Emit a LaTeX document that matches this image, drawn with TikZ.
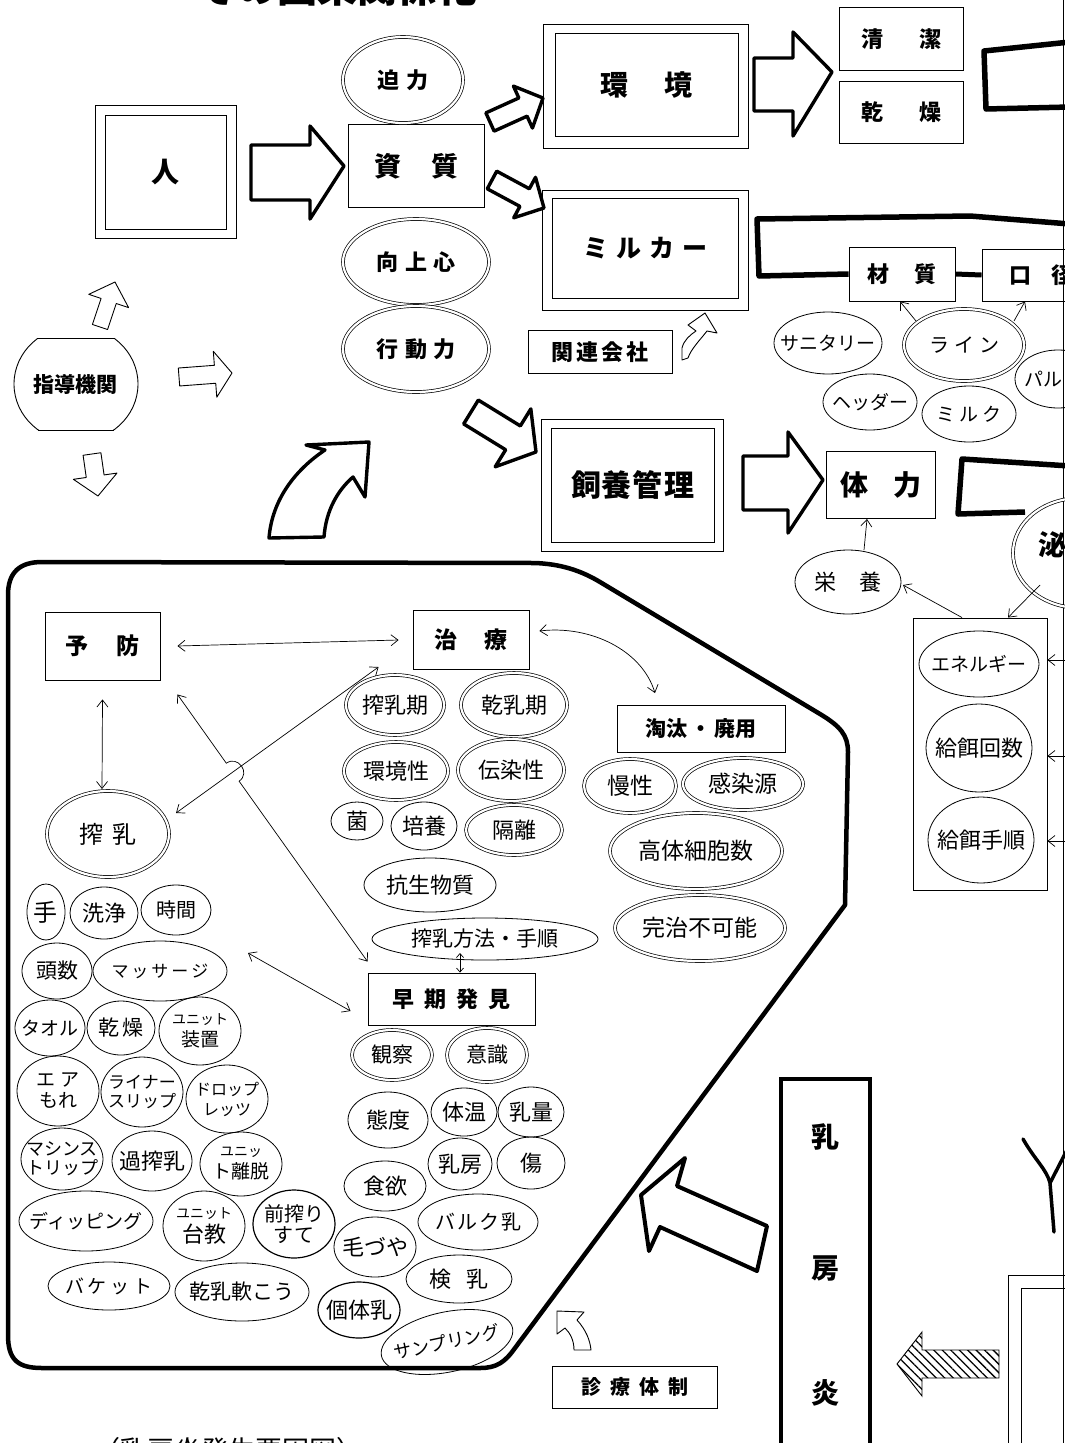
\documentclass[tikz,border=0pt]{standalone}
\usepackage{fontspec}
\newfontfamily\jp{Noto Sans CJK JP}
\usetikzlibrary{arrows.meta,patterns.meta}
\newcommand\hs[1]{\hspace{#1pt}}
\newcommand\fs[1]{\fontsize{#1}{#1}\selectfont}
% ellipse: [style]{name}{x}{y}{rx}{ry}{font style}{text}
\newcommand\EL[8][]{%
  \draw[ell,#1] (#3,#4) ellipse [x radius=#5, y radius=#6];
  \node[lbl,#7] (#2) at (#3,#4) {#8};}
% outline arrow: [style]{x1}{y1}{x2}{y2}{body half}{head half}{head length}
\newcommand\fatarrow[8][]{%
  \pgfmathsetmacro\faA{atan2(-(#5)+(#3),(#4)-(#2))}%
  \pgfmathsetmacro\faL{veclen((#4)-(#2),(#5)-(#3))}%
  \pgfmathsetmacro\faB{\faL-(#8)}%
  \draw[#1,shift={(#2,#3)},rotate=\faA] (0,#6) -- (\faB,#6) -- (\faB,#7) -- (\faL,0) -- (\faB,-#7) -- (\faB,-#6) -- (0,-#6) -- cycle;}
\begin{document}
\begin{tikzpicture}[x=1pt,y=-1pt,
 lbl/.style={inner sep=0pt, align=center},
 jf/.style={font={\jp\fontsize{#1}{#1}\selectfont}},
 jb/.style={font={\jp\bfseries\fontsize{#1}{#1}\selectfont}},
 ell/.style={line width=0.8pt},
 dbl/.style={double, double distance=2.2pt, line width=0.7pt},
 bx/.style={draw, line width=0.9pt, inner sep=0pt},
 outer/.style={line width=0.9pt},
 fatline/.style={line width=3.4pt, line join=round, fill=white},
 thinout/.style={line width=0.9pt, line join=round, fill=white},
 bracket/.style={line width=5.5pt, line join=round},
 regionline/.style={line width=4.5pt, line join=round},
 vb/.tip={Straight Barb[length=7pt,width=11pt]},
 arr/.style={line width=0.7pt, -vb},
 darr/.style={line width=0.7pt, vb-vb},
]
\useasboundingbox (0,0) rectangle (1065,1443);
\fill[white] (0,0) rectangle (1065,1443);
\clip (0,0) rectangle (1065,1443);

% title and caption (cut by the page edge)
\node[lbl,jb=40] (title) at (337,-13) {その因果関係化};
\node[lbl,jf=27] (caption) at (228,1450) {（乳房炎発生要因図）};
\draw[line width=0.8pt] (1063.5,0) -- (1063.5,1443);

% ---------- upper part ----------
\node[bx, minimum width=121pt, minimum height=114pt, jb=28] (hito) at (165.5,172) {人};
\draw[outer] ([shift={(-9,-9)}]hito.north west) rectangle ([shift={(10,9)}]hito.south east);
\node[bx, minimum width=136pt, minimum height=83pt, jb=27] (shishitsu) at (416,166) {資\hs{30}質};
\draw[fatline] (251,145) -- (310,145) -- (310,126) -- (344,166) -- (310,219) -- (310,200) -- (251,200) -- cycle;

\EL[dbl]{hakuryoku}{403}{80}{60}{43}{jb=22}{迫\hs{7}力}
\EL[dbl]{kojoshin}{416}{262}{73}{43}{jb=22}{向\hs{7}上\hs{7}心}
\EL[dbl]{kodoryoku}{416}{349}{73}{43}{jb=22}{行\hs{7}動\hs{7}力}

\fatarrow[fatline]{490}{122}{543}{98}{10}{23}{22}
\fatarrow[fatline]{492}{180}{544}{208}{10}{23}{22}

\node[bx, minimum width=183pt, minimum height=103pt, jb=28] (kankyo) at (646.5,84.5) {環\hs{37}境};
\draw[outer] ([shift={(-11,-8)}]kankyo.north west) rectangle ([shift={(10,12)}]kankyo.south east);
\draw[fatline] (754,58) -- (793,58) -- (793,32) -- (832,72) -- (793,136) -- (793,111) -- (754,111) -- cycle;
\node[bx, minimum width=124pt, minimum height=63pt, jb=22] (seiketsu) at (901,39) {清\hs{36}潔};
\node[bx, minimum width=124pt, minimum height=62pt, jb=22] (kanso) at (901,112) {乾\hs{36}燥};
\draw[bracket] (1070,42) -- (984,51) -- (986,109) -- (1070,107);

\node[bx, minimum width=186pt, minimum height=100pt, jb=25] (milker) at (645,248) {ミ\hs{8}ル\hs{8}カ\hs{8}ー};
\draw[outer] ([shift={(-9,-7)}]milker.north west) rectangle ([shift={(10,12)}]milker.south east);
\node[bx, minimum width=106pt, minimum height=54pt, jb=22] (zaishitsu) at (902,274) {材\hs{25}質};
\node[bx, minimum width=118pt, minimum height=52pt, jb=22] (kokei) at (1041,275) {口\hs{20}径};
\draw[bracket] (1070,224) -- (970,216) -- (757,219) -- (759,276) -- (zaishitsu.west);
\draw[line width=5pt] (zaishitsu.east) -- (kokei.west);

\node[bx, minimum width=144pt, minimum height=43pt, jb=22] (kanren) at (600,352) {関\hs{3}連\hs{3}会\hs{3}社};
\draw[thinout] (682,360) -- (682,348) .. controls (684,340) and (690,335) .. (696,331) -- (688,325) -- (705,313) -- (717,333) -- (707,331) .. controls (700,340) and (691,349) .. (688,358) -- cycle;

\EL{sanitary}{828}{343}{54}{31}{jf=19}{サニタリー}
\EL[dbl]{rain}{964}{345}{60}{36}{jf=20}{ラ\hs{5}イ\hs{5}ン}
\EL{pal}{1058}{379}{43}{29}{jf=19}{}
\node[lbl,jf=19,anchor=west] (paltext) at (1024,379) {パル};
\EL{header}{870}{402}{47}{28}{jf=19}{ヘッダー}
\EL{milk}{969}{414}{47}{28}{jf=19}{ミ\hs{4}ル\hs{4}ク}
\draw[arr] ([shift={(-48,-24)}]rain.center) -- ([xshift=-2pt]zaishitsu.south);
\draw[arr] ([shift={(50,-24)}]rain.center) -- ([xshift=-16pt]kokei.south);

% guidance organ
\node[lbl, jb=21] (shido) at (76,384) {指導機関};
\begin{scope}
  \clip (0,338) rectangle (200,430);
  \draw[line width=0.9pt] (76,384) ellipse [x radius=62, y radius=58];
\end{scope}
\draw[line width=0.9pt] (38,338) -- (114,338);
\draw[line width=0.9pt] (38,430) -- (114,430);
\fatarrow[thinout]{100}{327}{115}{282}{8}{21}{20}
\fatarrow[thinout]{179}{377}{232}{373}{9}{23}{17}
\fatarrow[thinout]{92}{454}{98}{496}{9}{22}{20}

% big curved arrow
\draw[fatline] (269,538) .. controls (272,500) and (295,470) .. (325,450) -- (306,445) -- (369,442) -- (365,497) -- (353,477) .. controls (338,490) and (326,510) .. (324,537) -- cycle;
% arrow to feeding management
\fatarrow[fatline]{471}{412}{536}{452}{14}{34}{27}

\node[bx, minimum width=163pt, minimum height=114pt, jb=30] (shiyo) at (632.5,485) {飼\hs{1}養\hs{1}管\hs{1}理};
\draw[outer] ([shift={(-9,-8)}]shiyo.north west) rectangle ([shift={(9,9)}]shiyo.south east);
\draw[fatline] (743,456) -- (788,456) -- (788,432) -- (823,480) -- (788,533) -- (788,510) -- (743,510) -- cycle;
\node[bx, minimum width=109pt, minimum height=67pt, jb=28] (tairyoku) at (881,485) {体\hs{26}力};
\draw[bracket] (1070,466) -- (962,459) -- (958,514) -- (1025,512);
\EL[dbl]{hi}{1080}{553}{67}{55}{jb=28}{}
\node[lbl,jb=28] (hitext) at (1052,545) {泌};

\EL{eiyo}{848}{582}{53}{32}{jf=22}{栄\hs{24}養}
\draw[arr] ([shift={(16,-32)}]eiyo.center) -- ([xshift=-14pt]tairyoku.south);

\node[bx, minimum width=134pt, minimum height=272pt] (feed) at (980,754) {};
\EL{energy}{979}{664}{60}{33}{jf=19}{エネルギー}
\EL{kaisu}{979}{748}{53}{44}{jf=22}{給餌回数}
\EL{tejun}{981}{840}{53}{43}{jf=22}{給餌手順}
\draw[arr] ([xshift=-18pt]feed.north) -- ([shift={(55,3)}]eiyo.center);
\draw[arr] ([shift={(-40,32)}]hi.center) -- ([xshift=28pt]feed.north);
\coordinate (r1) at (1068,660);
\coordinate (r2) at (1068,756);
\coordinate (r3) at (1068,841);
\draw[arr] (r1) -- (feed.east |- r1);
\draw[arr] (r2) -- (feed.east |- r2);
\draw[arr] (r3) -- (feed.east |- r3);

% ---------- lower region ----------
\draw[regionline] (8,595) .. controls (8,572) and (20,562) .. (42,562) -- (535,563) .. controls (560,564) and (580,570) .. (600,582) -- (820,714) .. controls (840,726) and (848,735) .. (848,752) -- (845,905) -- (515,1348) .. controls (505,1362) and (497,1368) .. (480,1368) -- (42,1368) .. controls (18,1368) and (8,1360) .. (8,1335) -- cycle;

\node[bx, minimum width=115pt, minimum height=68pt, jb=23] (yobo) at (102.5,646) {予\hs{29}防};
\node[bx, minimum width=116pt, minimum height=59pt, jb=23] (chiryo) at (471,640) {治\hs{27}療};
\node[bx, minimum width=168pt, minimum height=47pt, jb=21] (tota) at (701,729) {淘汰\hs{3}・\hs{3}廃用};
\node[bx, minimum width=167pt, minimum height=52pt, jb=22] (soki) at (451.5,999) {早\hs{10}期\hs{10}発\hs{10}見};

\EL[dbl]{sakunyu}{108}{834}{61}{43}{jf=24}{搾\hs{10}乳}
\EL[dbl]{sakunyuki}{395}{705}{49}{30}{jf=22}{搾乳期}
\EL[dbl]{kannyuki}{514}{705}{53}{32}{jf=22}{乾乳期}
\EL[dbl]{kankyosei}{396}{771}{52}{29}{jf=22}{環境性}
\EL[dbl]{densensei}{511}{770}{53}{31}{jf=22}{伝染性}
\EL{kin}{357}{821}{26}{19}{jf=22}{菌}
\EL{baiyo}{424}{826}{33}{24}{jf=22}{培養}
\EL[dbl]{kakuri}{514}{830}{48}{25}{jf=22}{隔離}
\EL{kosei}{430}{885}{66}{27}{jf=22}{抗生物質}
\EL{hoho}{485}{939}{113}{21}{jf=21}{搾乳方法・手順}

\EL[dbl]{mansei}{630}{786}{46}{27}{jf=23}{慢性}
\EL[dbl]{kansengen}{743}{784}{60}{26}{jf=23}{感染源}
\EL[dbl]{kotai}{696}{851}{86}{38}{jf=23}{高体細胞数}
\EL[dbl]{kanchi}{700}{928}{85}{33}{jf=23}{完治不可能}

\EL[dbl]{kansatsu}{392}{1055}{40}{25}{jf=21}{観察}
\EL[dbl]{ishiki}{487}{1055}{40}{27}{jf=21}{意識}
\EL{taido}{388}{1120}{40}{28}{jf=22}{態度}
\EL{taion}{464}{1112}{33}{24}{jf=22}{体温}
\EL{nyuryo}{531}{1112}{33}{25}{jf=22}{乳量}
\EL{nyubo}{460}{1164}{32}{26}{jf=22}{乳房}
\EL{kizu}{531}{1163}{34}{26}{jf=22}{傷}
\EL{shokuyoku}{385}{1186}{41}{25}{jf=22}{食欲}
\EL{kezuya}{375}{1247}{41}{30}{jf=22}{毛づや}
\EL{bulk}{478}{1222}{60}{28}{jf=20}{バ\hs{2}ル\hs{2}ク\hs{2}乳}
\EL{kennyu}{459}{1279}{53}{24}{jf=22}{検\hs{16}乳}
\EL[line width=1.2pt]{kotainyu}{359}{1310}{41}{28}{jf=22}{個体乳}
\draw[ell, rotate around={12:(447,1342)}] (447,1342) ellipse [x radius=67, y radius=30];
\node[lbl,jf=18,rotate=12] (sampling) at (447,1342) {サンプリング};

\EL{te}{46}{912}{19}{28}{jf=24}{手}
\EL{senjo}{104}{913}{34}{26}{jf=22}{洗浄}
\EL{jikan}{176}{910}{35}{25}{jf=20}{時間}
\EL{tosu}{57}{971}{35}{28}{jf=21}{頭数}
\EL{massage}{160}{971}{67}{30}{jf=17}{マ\hs{3}ッ\hs{3}サ\hs{3}ー\hs{3}ジ}
\EL{towel}{50}{1028}{35}{28}{jf=19}{タオル}
\EL{kanso2}{121}{1028}{34}{27}{jf=21}{乾\hs{3}燥}
\EL{unitsochi}{200}{1031}{41}{34}{jf=14}{ユニット\\[4pt]{\fs{19}装置}}
\EL{airmore}{58}{1091}{41}{35}{jf=19}{エ\hs{6}ア\\[2pt]もれ}
\EL{liner}{142}{1092}{41}{35}{jf=17}{ライナー\\[2pt]スリップ}
\EL{droplets}{227}{1099}{41}{34}{jf=16}{ドロップ\\[4pt]レッツ}
\EL{machine}{62}{1159}{41}{31}{jf=18}{マシンス\\[1pt]トリップ}
\EL{kasakunyu}{152}{1161}{40}{30}{jf=22}{過搾乳}
\EL{unitridatsu}{241}{1164}{41}{32}{jf=14}{ユニッ\\[4pt]{\fs{19}ト離脱}}
\EL{dipping}{86}{1221}{67}{30}{jf=19}{ディッピング}
\EL{unitdai}{204}{1226}{41}{35}{jf=14}{ユニット\\[4pt]{\fs{22}台教}}
\EL[line width=1.2pt]{maesakuri}{294}{1224}{41}{34}{jf=20}{前搾り\\[1pt]すて}
\EL{bucket}{109}{1286}{61}{24}{jf=19}{バ\hs{4}ケ\hs{4}ッ\hs{4}ト}
\EL{kannyunanko}{242}{1292}{67}{29}{jf=21}{乾乳軟こう}

% connectors in the lower region
\draw[darr] ([xshift=17pt]yobo.east) -- ([xshift=-14pt]chiryo.west);
\draw[darr] ([shift={(0,19)}]yobo.south) -- ([shift={(-6,-45)}]sakunyu.center);
\draw[darr] ([shift={(68,-21)}]sakunyu.center) -- ([shift={(-34,27)}]chiryo.west);
\coordinate (L1) at ([shift={(17,14)}]yobo.south east);
\coordinate (L2) at ([shift={(0,-11)}]soki.north west);
\coordinate (hopA) at (226.3,763.2);
\coordinate (hopB) at (239.1,781.2);
\draw[darr] (L1) -- (hopA) .. controls (238,755) and (251,773) .. (hopB) -- (L2);
\draw[darr] ([shift={(88,-18)}]massage.center) -- ([shift={(-17,12)}]soki.west);
\draw[line width=0.7pt, {Straight Barb[length=4pt,width=7pt]}-{Straight Barb[length=4pt,width=7pt]}] ([shift={(-25,14)}]hoho.center) -- ([xshift=8.5pt]soki.north);
\draw[darr] ([shift={(10,-9)}]chiryo.east) .. controls (590,625) and (642,650) .. ([shift={(-46,-12)}]tota.north);

% ---------- bottom right ----------
\node[draw, line width=4pt, minimum width=89pt, minimum height=371pt, inner sep=0pt] (nyuboen) at (825.5,1264.5) {};
\node[lbl,jb=28] (en1) at (825,1137) {乳};
\node[lbl,jb=28] (en2) at (825,1268) {房};
\node[lbl,jb=28] (en3) at (825,1393) {炎};
\draw[line width=4pt, line join=round, fill=white] (641,1195) -- (685,1158) -- (677,1186) -- (767,1226) -- (757,1271) -- (660,1227) -- (649,1251) -- cycle;
\draw[thinout] (557,1311) -- (584,1312) -- (577,1320) .. controls (586,1330) and (590,1340) .. (591,1350) -- (574,1350) .. controls (574,1340) and (570,1333) .. (565,1328) -- (557,1334) -- cycle;
\node[bx, minimum width=165pt, minimum height=42pt, jb=20] (shinryo) at (634.5,1387) {診\hs{9}療\hs{9}体\hs{9}制};
\draw[line width=0.9pt, pattern={Lines[angle=-45,distance=6pt,line width=1.3pt]}] (897,1364) -- (922,1332) -- (922,1350) -- (999,1350) -- (999,1378) -- (922,1378) -- (922,1396) -- cycle;
\draw[line width=1pt] (1008,1450) -- (1008,1275) -- (1070,1275);
\draw[line width=1pt] (1021,1450) -- (1021,1288) -- (1070,1288);
\draw[line width=3.5pt, line cap=round] (1023,1139) .. controls (1035,1160) and (1047,1170) .. (1050,1183) -- (1054,1232);
\draw[line width=3.5pt, line cap=round] (1050,1183) -- (1068,1148);
\end{tikzpicture}
\end{document}
